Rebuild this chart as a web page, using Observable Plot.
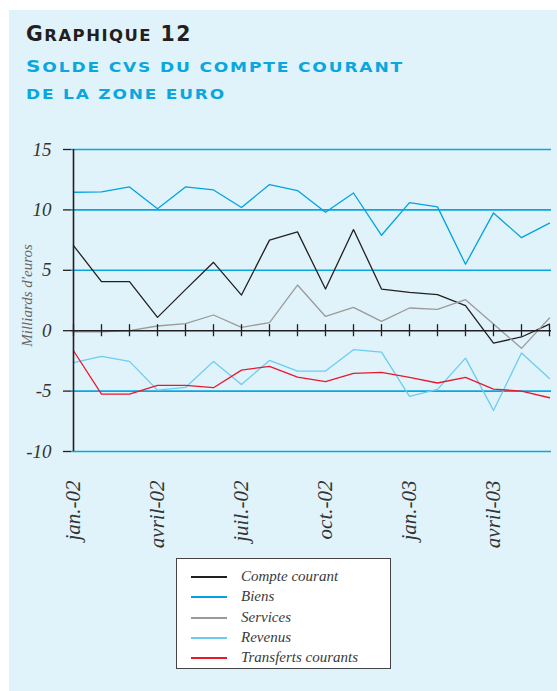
<!DOCTYPE html>
<html><head><meta charset="utf-8">
<script src="https://cdn.jsdelivr.net/npm/d3@7"></script>
<script src="https://cdn.jsdelivr.net/npm/@observablehq/plot@0.6"></script>
<style>
html,body{margin:0;padding:0;background:#fff;width:557px;height:691px;overflow:hidden}
#panel{position:absolute;left:9px;top:10px;width:548px;height:681px;background:#e0f3fa}
.t{position:absolute;left:26px;font-family:"DejaVu Sans",sans-serif;font-weight:bold;white-space:nowrap;transform-origin:0 0}
#title{top:22px;color:#231f20;letter-spacing:1.5px}
#sub1{top:57px;color:#0aa6e0;letter-spacing:1.5px}
#sub2{top:84px;color:#0aa6e0;letter-spacing:1.5px}
#chart{position:absolute;left:0;top:0}
#legend{position:absolute;left:176px;top:558px;width:213px;height:109px;background:#fff;border:1.5px solid #444}
.li{position:absolute;left:14px;height:20px;font-family:"Liberation Serif",serif;font-style:italic;font-size:15px;color:#3a3a3a}
.li span.sw{position:absolute;left:0;top:10px;width:36px;height:2px}
.li span.tx{position:absolute;left:50px;top:0;white-space:nowrap;line-height:20px}
</style></head>
<body>
<div id="panel"></div>
<div class="t" id="title" data-w="166"><span style="font-size:20.5px">G</span><span style="font-size:16.5px">RAPHIQUE</span><span style="font-size:20.5px"> 12</span></div>
<div class="t" id="sub1" data-w="378"><span style="font-size:16.5px">S</span><span style="font-size:14px">OLDE CVS DU COMPTE COURANT</span></div>
<div class="t" id="sub2" data-w="200"><span style="font-size:14px">DE LA ZONE EURO</span></div>
<div id="chart"></div>
<div id="legend"></div>
<script>
const months = ["jan.-02","févr.-02","mars-02","avril-02","mai-02","juin-02","juil.-02","août-02","sept.-02","oct.-02","nov.-02","déc.-02","jan.-03","févr.-03","mars-03","avril-03","mai-03","juin-03"];
const tickLabels = ["jan.-02","avril-02","juil.-02","oct.-02","jan.-03","avril-03"];
const yTicks = [15,10,5,0,-5,-10];
const compteCourant = [7.05,4.06,4.06,1.1,3.4,5.66,2.95,7.5,8.18,3.45,8.37,3.45,3.17,2.98,2.07,-1.02,-0.52,0.55];
const biens = [11.46,11.5,11.9,10.1,11.9,11.65,10.2,12.1,11.6,9.8,11.4,7.9,10.6,10.25,5.5,9.75,7.7,8.9];
const services = [-0.1,-0.1,0,0.39,0.58,1.3,0.28,0.66,3.78,1.18,1.93,0.77,1.88,1.77,2.57,0.55,-1.46,1.05];
const revenus = [-2.65,-2.13,-2.54,-4.92,-4.7,-2.54,-4.45,-2.46,-3.34,-3.34,-1.57,-1.77,-5.44,-4.86,-2.27,-6.6,-1.85,-3.95];
const transferts = [-1.66,-5.25,-5.25,-4.53,-4.53,-4.72,-3.26,-2.95,-3.84,-4.22,-3.53,-3.45,-3.87,-4.33,-3.87,-4.83,-5.0,-5.55];
const seriesNames = ["Compte courant","Biens","Services","Revenus","Transferts courants"];
const seriesValues = [compteCourant,biens,services,revenus,transferts];
const seriesColors = ["#231f20","#00a3e0","#9a9a9a","#6cccf0","#e8192c"];

document.querySelectorAll(".t").forEach(el=>{
  const w = el.getBoundingClientRect().width;
  el.style.transform = `scaleX(${(+el.dataset.w)/w})`;
});

const rows = [];
seriesNames.forEach((name,k)=>seriesValues[k].forEach((v,i)=>rows.push({series:name,month:months[i],value:v})));

const serif = "'Liberation Serif', 'Times New Roman', serif";
const chart = Plot.plot({
  width:557, height:560,
  marginLeft:71, marginRight:6, marginTop:149, marginBottom:109,
  style:{background:"transparent", overflow:"visible"},
  x:{type:"point", domain:months, padding:0, axis:null},
  y:{domain:[-10,15], axis:null},
  color:{domain:seriesNames, range:seriesColors},
  marks:[
    Plot.ruleY(yTicks.filter(d=>d!==0), {stroke:"#0aa6e0", strokeWidth:1.6}),
    Plot.axisY({ticks:yTicks, tickSize:8, tickPadding:12, tickFormat:d=>String(d), fontSize:19, fontFamily:serif, fontStyle:"italic", fill:"#333", stroke:"#231f20", strokeWidth:1.3, label:null}),
    Plot.line(rows, {x:"month", y:"value", z:"series", stroke:"series", strokeWidth:1.3}),
    Plot.ruleY([0], {stroke:"#231f20", strokeWidth:1.6}),
    Plot.ruleX(months, {x:d=>d, y1:-0.5, y2:0.5, stroke:"#231f20", strokeWidth:1.3}),
    Plot.ruleX([months[0]], {x:d=>d, y1:-10, y2:15, stroke:"#231f20", strokeWidth:1.6}),
    Plot.text(tickLabels, {x:d=>d, frameAnchor:"bottom", rotate:-90, textAnchor:"end", lineAnchor:"middle", dy:29, fontSize:21, fontFamily:serif, fontStyle:"italic", fill:"#333"}),
    Plot.text(["Milliards d'euros"], {frameAnchor:"left", rotate:-90, dx:-44, dy:-5, fontSize:15, fontFamily:serif, fontStyle:"italic", fill:"#666", textAnchor:"middle"})
  ]
});
document.getElementById("chart").appendChild(chart);

const leg = document.getElementById("legend");
seriesNames.forEach((n,k)=>{
  const d=document.createElement("div");
  d.className="li"; d.style.top=(7+k*20.3)+"px";
  d.innerHTML=`<span class="sw" style="background:${seriesColors[k]}"></span><span class="tx">${n}</span>`;
  leg.appendChild(d);
});
</script>
</body></html>
